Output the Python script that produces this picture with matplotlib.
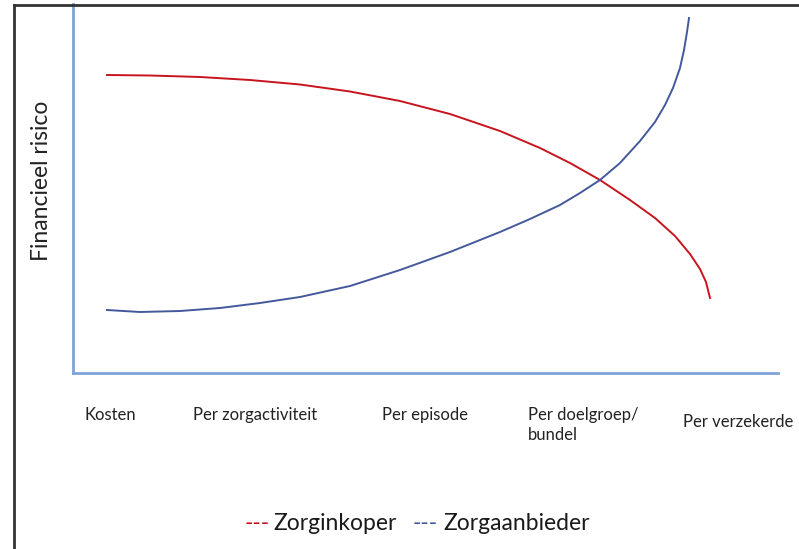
import matplotlib.pyplot as plt
from matplotlib.lines import Line2D
from matplotlib.transforms import blended_transform_factory

plt.rcParams['font.family'] = ['Lato', 'DejaVu Sans']

# categories along the payment axis
categories = ['Kosten', 'Per zorgactiviteit', 'Per episode',
              'Per doelgroep/\nbundel', 'Per verzekerde']
cat_pos = [37, 182, 352, 510, 665]

# risk curves (arbitrary units)
inkoper_x = [34, 77, 127, 177, 227, 277, 327, 377, 427, 467, 497, 527,
             557, 582, 602, 617, 627, 633, 637]
inkoper_y = [298, 297.5, 296, 293, 288.5, 281.5, 272, 259, 242, 225, 210, 193,
             173, 155, 137, 119, 104, 91, 75]
aanbieder_x = [34, 67, 107, 147, 187, 227, 277, 327, 377, 427, 457, 487,
               507, 527, 547, 567, 582, 592, 600, 607, 611, 614, 616]
aanbieder_y = [63, 61, 62, 65, 70, 76, 87, 103, 121, 141, 154, 168,
               180, 193, 210, 232, 251, 268, 285, 305, 323, 341, 355]

red = '#c8141e'
blue = '#44599c'
spine = '#7fa3d6'

W, H = 799, 549
fig = plt.figure(figsize=(W / 100, H / 100), dpi=100)
ax = fig.add_axes([73 / W, 1 - 373 / H, 705 / W, 369 / H])

ax.plot(inkoper_x, inkoper_y, color=red, lw=1.4)
ax.plot(aanbieder_x, aanbieder_y, color=blue, lw=1.4)

ax.set_xlim(0, 705)
ax.set_ylim(0, 369)
ax.set_xticks([])
ax.set_yticks([])
for s in ['top', 'right']:
    ax.spines[s].set_visible(False)
for s in ['left', 'bottom']:
    ax.spines[s].set_color(spine)
    ax.spines[s].set_linewidth(2)

trans = blended_transform_factory(ax.transData, ax.transAxes)
for lab, x in zip(categories, cat_pos):
    dy = -0.11 if 'verzekerde' in lab else -0.093
    ax.text(x, dy, lab, transform=trans, ha='center', va='top',
            ma='left', fontsize=12, color='#222222', linespacing=1.3)

ax.set_ylabel('Financieel risico', fontsize=16.5, color='#222222')
ax.yaxis.set_label_coords(-0.03, 0.52)

# legend as coloured dashes + text
ly = 1 - 523 / H
fig.text(245 / W, ly, '---', color=red, fontsize=16.5, va='center')
fig.text(273 / W, ly, 'Zorginkoper', color='#1a1a1a', fontsize=16.5, va='center')
fig.text(413 / W, ly, '---', color=blue, fontsize=16.5, va='center')
fig.text(443 / W, ly, 'Zorgaanbieder', color='#1a1a1a', fontsize=16.5, va='center')

# frame around the figure
fig.add_artist(Line2D([14 / W, 14 / W], [0, 1 - 4.5 / H], color='#333333', lw=2))
fig.add_artist(Line2D([14 / W, 1], [1 - 4.5 / H, 1 - 4.5 / H], color='#333333', lw=2))

fig.savefig('out.png', dpi=100)
